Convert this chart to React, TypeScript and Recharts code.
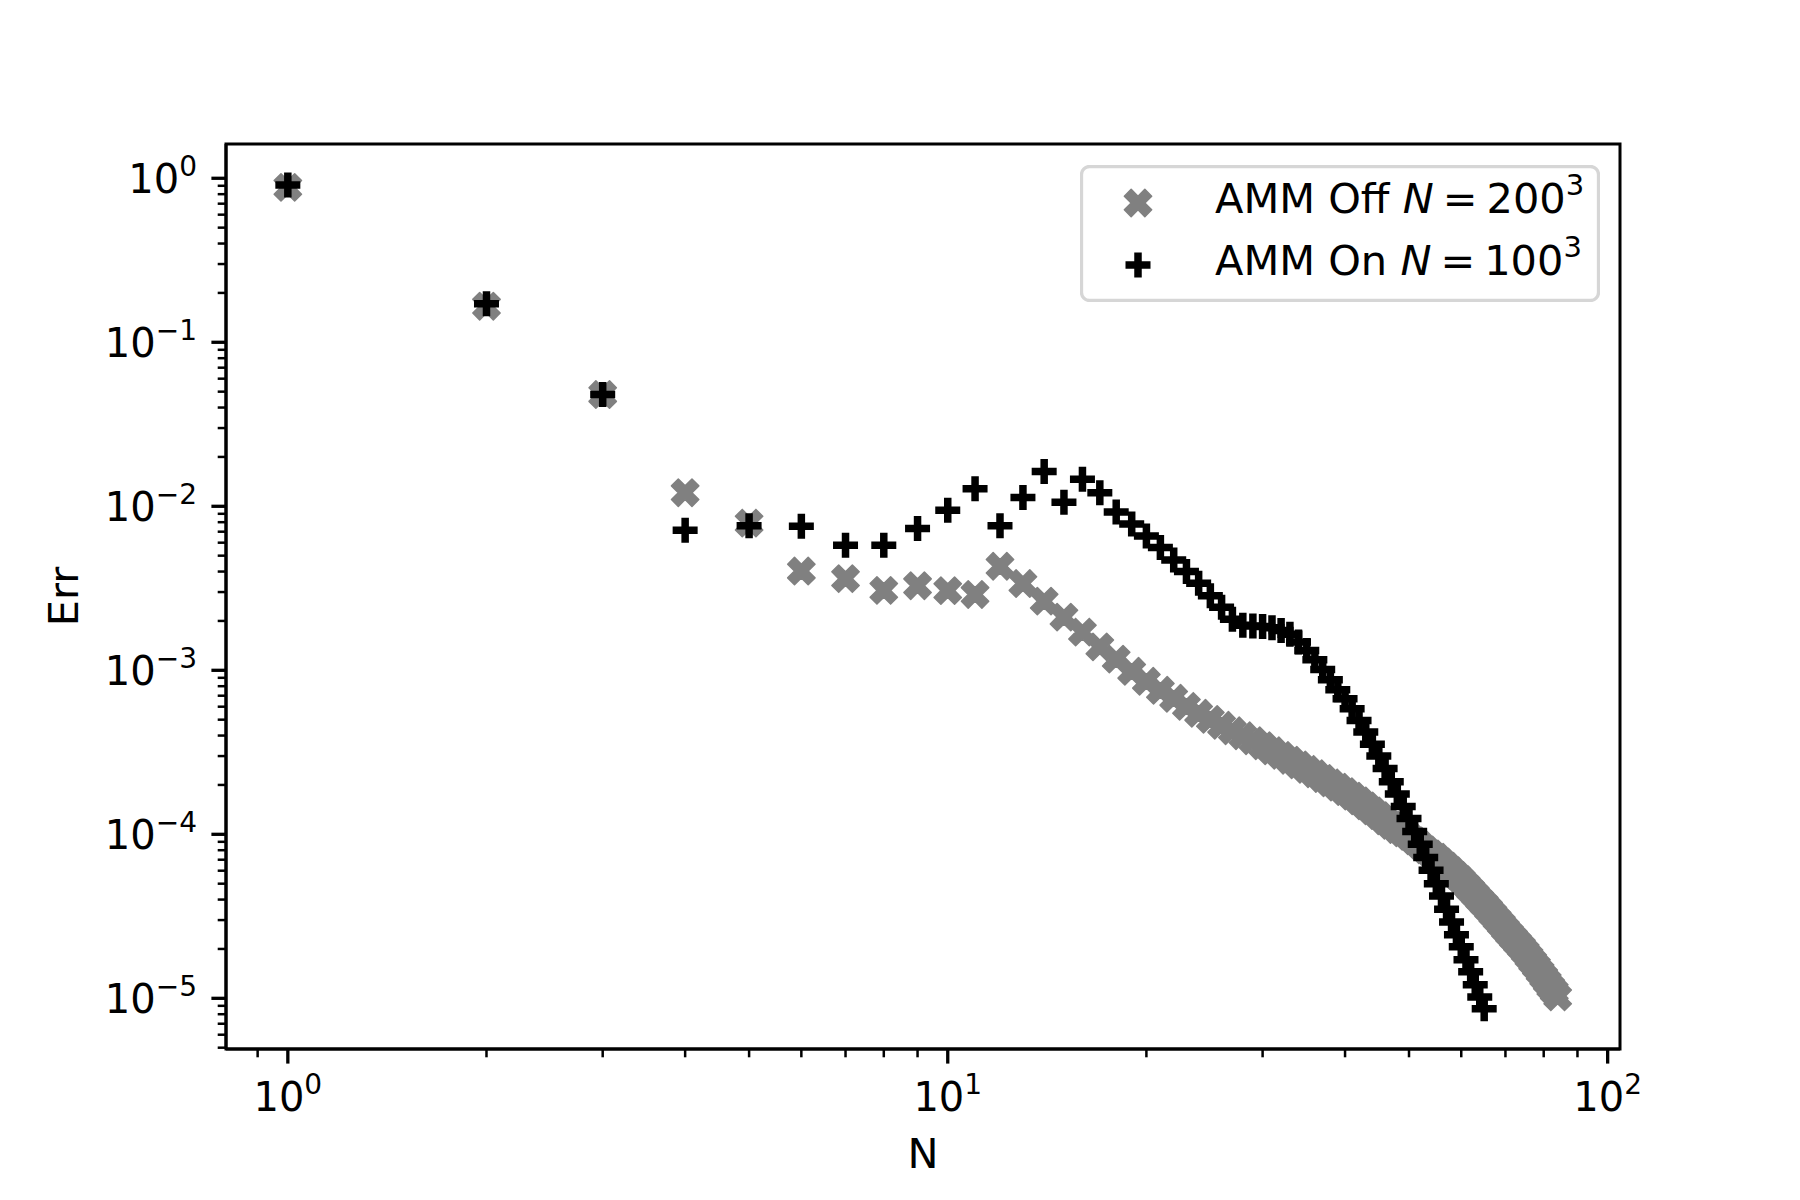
import React from 'react';
import { Legend, ReferenceArea, Scatter, ScatterChart, XAxis, YAxis } from 'recharts';

// AMM Off, N = 200^3 (grey X markers), error for N = 1 .. 84
const errOff = [
    0.88, 0.166, 0.048, 0.0121, 0.0079, 0.00403, 0.00362, 0.00307, 0.00328, 0.00306,
    0.0029, 0.00431, 0.00338, 0.00264, 0.00211, 0.00171, 0.00139, 0.00117, 0.000986, 0.000857,
    0.000755, 0.000675, 0.000603, 0.000547, 0.000502, 0.000462, 0.000428, 0.000399, 0.000372, 0.000347,
    0.000323, 0.000303, 0.000283, 0.000265, 0.000249, 0.000234, 0.000219, 0.000206, 0.000194, 0.000182,
    0.000171, 0.00016, 0.000149, 0.000139, 0.00013, 0.000121, 0.0001135, 0.000107, 0.000102, 0.0000972,
    0.0000912, 0.0000857, 0.0000804, 0.000076, 0.0000724, 0.0000679, 0.0000638, 0.0000599, 0.0000562, 0.0000528,
    0.0000492, 0.0000459, 0.0000428, 0.0000399, 0.0000374, 0.0000349, 0.0000325, 0.0000303, 0.0000283, 0.0000264,
    0.0000247, 0.0000232, 0.0000218, 0.0000205, 0.0000192, 0.0000179, 0.0000167, 0.0000156, 0.0000145, 0.0000135,
    0.0000126, 0.0000117, 0.000011, 0.0000102,
];

// AMM On, N = 100^3 (black + markers), error for N = 1 .. 65
const errOn = [
    0.91, 0.172, 0.048, 0.00714, 0.0076, 0.00755, 0.00578, 0.00578, 0.00731, 0.00946,
    0.0128, 0.00762, 0.0113, 0.0163, 0.0106, 0.0146, 0.0121, 0.00923, 0.0078, 0.0066,
    0.0056, 0.0047, 0.004, 0.0034, 0.00285, 0.00242, 0.00205, 0.00188, 0.00186, 0.00185,
    0.00182, 0.00175, 0.00166, 0.00149, 0.00132, 0.00116, 0.00101, 0.000877, 0.000762, 0.000671,
    0.000583, 0.000495, 0.00042, 0.000354, 0.0003, 0.000252, 0.000209, 0.000176, 0.000148, 0.000125,
    0.000104, 0.0000869, 0.0000721, 0.0000603, 0.00005, 0.000042, 0.0000349, 0.0000292, 0.0000244, 0.0000206,
    0.0000172, 0.0000145, 0.0000121, 0.0000102, 0.00000865,
];

const minorSteps = [2, 3, 4, 5, 6, 7, 8, 9];

const X_DOMAIN: [number, number] = [10 ** -0.0937, 10 ** 2.0187];
const Y_DOMAIN: [number, number] = [10 ** -5.309, 10 ** 0.209];

const legendLabels = [
    { name: 'AMM Off', n: '200' },
    { name: 'AMM On', n: '100' },
];

const FONT = 'DejaVu Sans';
const GREY = '#808080';

const offData = errOff.map((err, i) => ({ n: i + 1, err }));
const onData = errOn.map((err, i) => ({ n: i + 1, err }));

const inRange = (v: number, d: [number, number]) => v >= d[0] && v <= d[1];
const xTicks = [0.1, 1, 10]
    .flatMap(d => [d, ...minorSteps.map(m => m * d)])
    .concat([100])
    .filter(v => inRange(v, X_DOMAIN));
const yTicks = [0.000001, 0.00001, 0.0001, 0.001, 0.01, 0.1, 1]
    .flatMap(d => [d, ...minorSteps.map(m => m * d)])
    .filter(v => inRange(v, Y_DOMAIN));

const isMajor = (v: number) => Math.abs(Math.log10(v) - Math.round(Math.log10(v))) < 1e-6;
const expOf = (v: number) => {
    const e = Math.round(Math.log10(v));
    return e < 0 ? '\u2212' + Math.abs(e) : String(e);
};

function XMarker({ cx, cy, s = 29 }: { cx: number, cy: number, s?: number }) {
    const u = s / 6;
    const pts = [[-1, -3], [1, -3], [1, -1], [3, -1], [3, 1], [1, 1], [1, 3], [-1, 3], [-1, 1], [-3, 1], [-3, -1], [-1, -1]]
        .map(([a, b]) => `${a * u},${b * u}`).join(' ');
    return (
        <polygon points={pts} transform={`translate(${cx},${cy}) rotate(45)`}
            fill={GREY} stroke={GREY} strokeWidth={1.5} strokeLinejoin='round'/>
    );
}

function PlusMarker({ cx, cy, s = 25 }: { cx: number, cy: number, s?: number }) {
    const h = s / 2;
    return (
        <path d={`M${cx - h},${cy}H${cx + h}M${cx},${cy - h}V${cy + h}`} stroke='#000' strokeWidth={7.5} fill='none'/>
    );
}

function XTick(props: any) {
    const { x, y, payload } = props;
    const major = isMajor(payload.value);
    return (
        <g>
            <line x1={x} x2={x} y1={y} y2={y + (major ? 14.6 : 8.3)} stroke='#000' strokeWidth={major ? 3.3 : 2.5}/>
            {major && (
                <text x={x} y={y + 62} textAnchor='middle' fontFamily={FONT} fontSize={40} fill='#000'>
                    10<tspan dy={-17} fontSize={28}>{expOf(payload.value)}</tspan>
                </text>
            )}
        </g>
    );
}

function YTick(props: any) {
    const { x, y, payload } = props;
    const major = isMajor(payload.value);
    return (
        <g>
            <line x1={x - (major ? 14.6 : 8.3)} x2={x} y1={y} y2={y} stroke='#000' strokeWidth={major ? 3.3 : 2.5}/>
            {major && (
                <text x={x - 29} y={y + 15} textAnchor='end' fontFamily={FONT} fontSize={40} fill='#000'>
                    10<tspan dy={-17} fontSize={28}>{expOf(payload.value)}</tspan>
                </text>
            )}
        </g>
    );
}

function LegendBox() {
    return (
        <svg width={520} height={137} style={{ display: 'block' }}>
            <rect x={1.5} y={1.5} width={517} height={134} rx={8} fill='#fff' fillOpacity={0.8} stroke='#d6d6d6' strokeWidth={3.3}/>
            {legendLabels.map((l, i) => (
                <g key={l.name}>
                    {i === 0 ? <XMarker cx={58} cy={38 + i * 62}/> : <PlusMarker cx={58} cy={38 + i * 62}/>}
                    <text x={135} y={48 + i * 62} fontFamily={FONT} fontSize={41.5} fill='#000'>
                        {l.name} <tspan fontStyle='italic'>N</tspan>
                        <tspan dx={9}>=</tspan>
                        <tspan dx={9}>{l.n}</tspan>
                        <tspan dy={-18} fontSize={29}>3</tspan>
                    </text>
                </g>
            ))}
        </svg>
    );
}

export default function App() {
    return (
        <div style={{ position: 'absolute', left: 0, top: 0, background: '#fff' }}>
            <ScatterChart width={1800} height={1200} margin={{ top: 144, right: 180, bottom: 0, left: 0 }}>
                <ReferenceArea x1={X_DOMAIN[0]} x2={X_DOMAIN[1]} y1={Y_DOMAIN[0]} y2={Y_DOMAIN[1]}
                    fill='none' stroke='#000' strokeWidth={3} ifOverflow='visible'/>
                <XAxis type='number' dataKey='n' scale='log' domain={X_DOMAIN} allowDataOverflow
                    ticks={xTicks} interval={0} tickSize={0} tickMargin={0} tickLine={false}
                    tick={<XTick/>} axisLine={{ stroke: '#000', strokeWidth: 3 }} height={151}
                    label={(p: any) => (
                        <text x={p.viewBox.x + p.viewBox.width / 2} y={p.viewBox.y + 119} textAnchor='middle'
                            fontFamily={FONT} fontSize={41.5} fill='#000'>N</text>
                    )}/>
                <YAxis type='number' dataKey='err' scale='log' domain={Y_DOMAIN} allowDataOverflow
                    ticks={yTicks} interval={0} tickSize={0} tickMargin={0} tickLine={false}
                    tick={<YTick/>} axisLine={{ stroke: '#000', strokeWidth: 3 }} width={226}
                    label={(p: any) => {
                        const cy = p.viewBox.y + p.viewBox.height / 2;
                        return (
                            <text x={78} y={cy} transform={`rotate(-90, 78, ${cy})`} textAnchor='middle'
                                fontFamily={FONT} fontSize={41.5} fill='#000'>Err</text>
                        );
                    }}/>
                <Scatter name='AMM Off' data={offData} isAnimationActive={false}
                    shape={(p: any) => <XMarker cx={p.cx} cy={p.cy}/>}/>
                <Scatter name='AMM On' data={onData} isAnimationActive={false}
                    shape={(p: any) => <PlusMarker cx={p.cx} cy={p.cy}/>}/>
                <Legend layout='vertical' align='center' verticalAlign='middle'
                    wrapperStyle={{ left: 1080, top: 165, width: 520, height: 137 }}
                    content={() => <LegendBox/>}/>
            </ScatterChart>
        </div>
    );
}
